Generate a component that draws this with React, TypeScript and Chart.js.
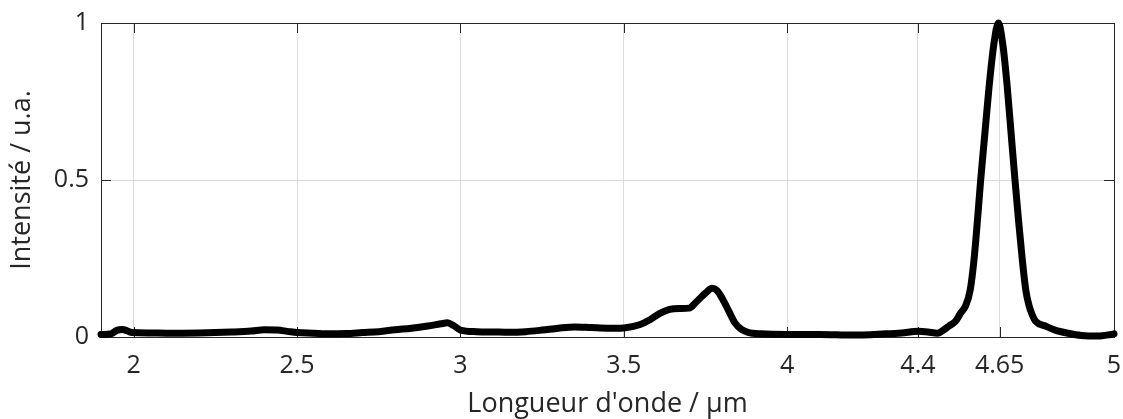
import React, { useEffect, useRef } from "react";
import { Chart, registerables } from "chart.js";

Chart.register(...registerables);

// Wavelength (µm) and normalised intensity
const wavelengths = [
  1.9, 1.93, 1.95, 1.965, 1.98, 1.995, 2.05, 2.1, 2.2, 2.3, 2.36, 2.4, 2.44, 2.47, 2.5,
  2.55, 2.6, 2.65, 2.7, 2.75, 2.8, 2.85, 2.9, 2.94, 2.96, 2.98, 3.0, 3.05, 3.1, 3.15,
  3.2, 3.25, 3.3, 3.35, 3.4, 3.45, 3.5, 3.55, 3.58, 3.61, 3.64, 3.67, 3.7, 3.72, 3.75,
  3.77, 3.785, 3.8, 3.82, 3.84, 3.86, 3.88, 3.92, 4.0, 4.1, 4.2, 4.3, 4.35, 4.4, 4.43,
  4.46, 4.475, 4.495, 4.515, 4.53, 4.546, 4.56, 4.572, 4.582, 4.592, 4.605, 4.618, 4.632,
  4.646, 4.66, 4.673, 4.685, 4.697, 4.708, 4.719, 4.73, 4.74, 4.75, 4.76, 4.79, 4.82, 4.86,
  4.9, 4.95, 4.99, 5.0,
];
const intensities = [
  0.008, 0.01, 0.022, 0.024, 0.02, 0.014, 0.013, 0.012, 0.013, 0.016, 0.019, 0.023, 0.022,
  0.018, 0.014, 0.012, 0.01, 0.011, 0.014, 0.017, 0.023, 0.028, 0.035, 0.042, 0.045, 0.036,
  0.022, 0.017, 0.016, 0.015, 0.017, 0.022, 0.028, 0.032, 0.03, 0.028, 0.029, 0.04, 0.055,
  0.075, 0.088, 0.091, 0.092, 0.11, 0.14, 0.155, 0.148, 0.125, 0.085, 0.045, 0.024, 0.015,
  0.01, 0.008, 0.008, 0.006, 0.01, 0.013, 0.018, 0.016, 0.012, 0.02, 0.035, 0.05, 0.075,
  0.1, 0.15, 0.25, 0.37, 0.5, 0.65, 0.8, 0.93, 1.0, 0.93, 0.8, 0.65, 0.5, 0.37, 0.25, 0.15,
  0.1, 0.07, 0.05, 0.035, 0.022, 0.012, 0.005, 0.003, 0.008, 0.01,
];

const xTickValues = [2, 2.5, 3, 3.5, 4, 4.4, 4.65, 5];
const yTickValues = [0, 0.5, 1];

const xTitle = "Longueur d'onde / μm";
const yTitle = "Intensité / u.a.";

const FONT = "'Open Sans', 'Noto Sans', sans-serif";
const TEXT_COLOR = "#262626";
const AXIS_COLOR = "#262626";
const GRID_COLOR = "#dcdcdc";

const boxPlugin = {
  id: "matlabBox",
  beforeDatasetsDraw(chart: any) {
    const { ctx, chartArea } = chart;
    const { left, right, top, bottom } = chartArea;
    const xs = chart.scales.x;
    const ys = chart.scales.y;
    const tick = 10;
    ctx.save();
    ctx.strokeStyle = AXIS_COLOR;
    ctx.lineWidth = 1;
    ctx.beginPath();
    for (const v of xTickValues) {
      const px = Math.round(xs.getPixelForValue(v)) + 0.5;
      ctx.moveTo(px, bottom);
      ctx.lineTo(px, bottom - tick);
      ctx.moveTo(px, top);
      ctx.lineTo(px, top + tick);
    }
    for (const v of yTickValues) {
      const py = Math.round(ys.getPixelForValue(v)) + 0.5;
      ctx.moveTo(left, py);
      ctx.lineTo(left + tick, py);
      ctx.moveTo(right, py);
      ctx.lineTo(right - tick, py);
    }
    ctx.stroke();
    ctx.strokeRect(Math.round(left) + 0.5, Math.round(top) + 0.5, Math.round(right - left), Math.round(bottom - top));
    ctx.restore();
  },
};

const zeroPadding = (scale: any) => {
  scale.paddingLeft = 0;
  scale.paddingRight = 0;
  scale.paddingTop = 0;
  scale.paddingBottom = 0;
};

export default function App() {
  const canvasRef = useRef<HTMLCanvasElement | null>(null);

  useEffect(() => {
    document.body.style.margin = "0";
    const canvas = canvasRef.current;
    if (!canvas) return;
    const chart = new Chart(canvas, {
      type: "line",
      data: {
        datasets: [
          {
            data: wavelengths.map((w, i) => ({ x: w, y: intensities[i] })),
            borderColor: "#000000",
            borderWidth: 7,
            pointRadius: 0,
            cubicInterpolationMode: "monotone",
            borderJoinStyle: "round",
            borderCapStyle: "round",
            clip: 10,
          } as any,
        ],
      },
      options: {
        animation: false,
        responsive: false,
        maintainAspectRatio: false,
        layout: { padding: { left: 0, top: 23, right: 9, bottom: 0 } },
        plugins: {
          legend: { display: false },
          tooltip: { enabled: false },
        },
        scales: {
          x: {
            type: "linear",
            min: 1.9,
            max: 5,
            afterBuildTicks: (scale: any) => {
              scale.ticks = xTickValues.map((v) => ({ value: v }));
            },
            afterFit: (scale: any) => {
              scale.height = 82;
              zeroPadding(scale);
            },
            ticks: {
              autoSkip: false,
              maxRotation: 0,
              padding: 14,
              color: TEXT_COLOR,
              font: { family: FONT, size: 25 },
              callback: (value: any) => String(value),
            },
            grid: { color: GRID_COLOR, lineWidth: 1, drawTicks: false },
            border: { display: false },
            title: {
              display: true,
              text: xTitle,
              color: TEXT_COLOR,
              font: { family: FONT, size: 27, lineHeight: 1 },
              padding: { top: 0, bottom: 1 },
            },
          },
          y: {
            type: "linear",
            min: 0,
            max: 1,
            afterBuildTicks: (scale: any) => {
              scale.ticks = yTickValues.map((v) => ({ value: v }));
            },
            afterFit: (scale: any) => {
              scale.width = 101;
              zeroPadding(scale);
            },
            ticks: {
              padding: 12,
              color: TEXT_COLOR,
              font: { family: FONT, size: 25 },
              callback: (value: any) => String(value),
            },
            grid: { color: GRID_COLOR, lineWidth: 1, drawTicks: false },
            border: { display: false },
            title: {
              display: true,
              text: yTitle,
              color: TEXT_COLOR,
              font: { family: FONT, size: 27, lineHeight: 1 },
              padding: { top: 9, bottom: 0 },
            },
          },
        },
      },
      plugins: [boxPlugin],
    });
    return () => chart.destroy();
  }, []);

  return (
    <div style={{ width: 1123, height: 419, position: "relative", background: "#fff" }}>
      <canvas ref={canvasRef} width={1123} height={419} style={{ display: "block" }} />
    </div>
  );
}
